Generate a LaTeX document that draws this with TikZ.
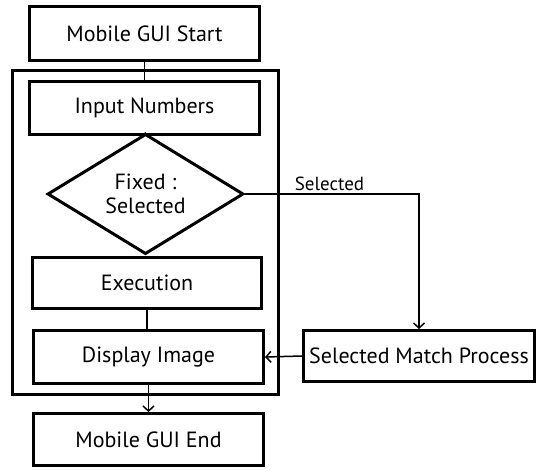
\documentclass[tikz,border=0pt]{standalone}
\usepackage{fontspec}
\setmainfont{PT Sans}
\usetikzlibrary{shapes.geometric,arrows.meta}
\begin{document}
\begin{tikzpicture}[x=1pt,y=-1pt,
  box/.style={draw,line width=3pt,rectangle,minimum width=230pt,minimum height=53pt,inner sep=0pt,font=\fontsize{22}{26}\selectfont},
  decision/.style={draw,line width=3pt,diamond,minimum width=196pt,minimum height=89pt,inner sep=0pt,align=center,font=\fontsize{22}{26}\selectfont},
  frame/.style={draw,line width=3pt,rectangle,minimum width=266pt,minimum height=324pt,inner sep=0pt},
  link/.style={line width=1.5pt},
  arrowlink/.style={link,-{Straight Barb[length=5pt,width=11pt,line width=1.5pt]}},
  lbl/.style={font=\fontsize{19}{22}\selectfont,inner sep=1pt}]
\useasboundingbox (0,0) rectangle (540,469);
% outer frame around the processing loop
\node[frame] (frame) at (145,232) {};
% flow steps
\node[box,minimum height=54pt] (start) at (144.5,33.5) {Mobile GUI Start};
\node[box] (input) at (144.5,108) {Input Numbers};
\node[decision] (dec) at (145.5,194) {Fixed :\\[-2pt]Selected};
\node[box,minimum width=229pt,minimum height=51pt] (exec) at (147,283) {Execution};
\node[box] (disp) at (148.5,357) {Display Image};
\node[box,minimum height=52pt] (end) at (148.5,439.5) {Mobile GUI End};
\node[box,minimum width=231pt,minimum height=51pt] (smp) at (419,356) {Selected Match Process};
% connectors
\draw[link] (start.south) -- (input.north);
\draw[link] (input.south) -- (dec.north);
\draw[link] (dec.south) -- (dec.south |- exec.north);
\draw[link] (exec.south) -- (exec.south |- disp.north);
\draw[arrowlink] (disp.south) -- (end.north);
\draw[arrowlink] (dec.east) -| node[lbl,pos=0.138,anchor=south west,yshift=2pt] {Selected} (smp.north);
\draw[arrowlink] (smp.west) -- (disp.east);
\end{tikzpicture}
\end{document}
